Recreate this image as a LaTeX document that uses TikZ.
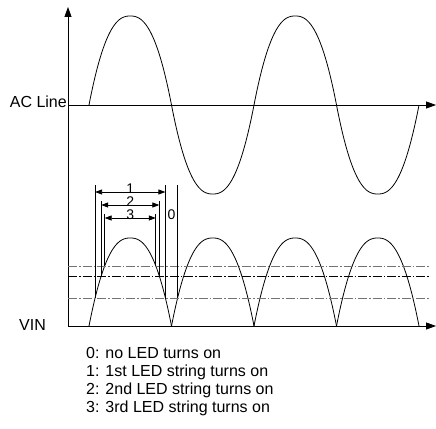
\documentclass[tikz,border=0pt]{standalone}
\usepackage{fontspec}
\setmainfont{Liberation Sans}
\usetikzlibrary{arrows.meta}
\tikzstyle{axisline}=[draw=black, line width=0.8pt, -{Triangle[length=10pt,width=7pt]}]
\tikzstyle{wave}=[draw=black, line width=0.8pt]
\tikzstyle{levelline}=[draw=black, line width=0.8pt, dash pattern=on 9pt off 2pt on 1.5pt off 2pt]
\tikzstyle{greylevel}=[levelline, draw=black!55]
\tikzstyle{markline}=[draw=black, line width=0.8pt]
\tikzstyle{dimarrow}=[draw=black, line width=0.8pt, {Triangle[length=7pt,width=5pt]}-{Triangle[length=7pt,width=5pt]}]
\tikzstyle{txt}=[font=\fontsize{16}{19}\selectfont, inner sep=0pt]
\tikzstyle{digit}=[font=\fontsize{14}{14}\selectfont, inner sep=0pt]

\begin{document}
\begin{tikzpicture}[x=1pt, y=-1pt]
\useasboundingbox (0,0) rectangle (436,428);
% axes
\coordinate (o) at (68,326);
\coordinate (top) at (68,7);
\coordinate (ac) at (68,105);
\coordinate (acend) at (436,105);
\coordinate (vinend) at (436,326);
\draw [style=axisline] (o) to (top);
\draw [style=axisline] (ac) to (acend);
\draw [style=axisline] (o) to (vinend);
\node [style=txt, anchor=base east] (acl) at (67,107) {AC Line};
\node [style=txt, anchor=base west] (vin) at (19,330) {VIN};
% AC line and rectified VIN
\foreach \k in {0,...,3} {
  \pgfmathsetmacro{\cx}{130.25+82.5*\k}
  \pgfmathsetmacro{\sg}{1-2*mod(\k,2)}
  \draw [style=wave] plot[domain=-1:1, samples=81, variable=\x]
    ({\cx+41.25*\x}, {105-\sg*89*(1-pow(abs(\x)+0.00001,2.4))});
  \draw [style=wave] plot[domain=-1:1, samples=81, variable=\x]
    ({\cx+41.25*\x}, {326-88*(1-pow(abs(\x)+0.00001,2.4))});
}
% threshold levels
\coordinate (v3a) at (68,266);  \coordinate (v3b) at (430,266);
\coordinate (v2a) at (68,276);  \coordinate (v2b) at (430,276);
\coordinate (v1a) at (68,298);  \coordinate (v1b) at (430,298);
\draw [style=greylevel] (v3a) to (v3b);
\draw [style=levelline] (v2a) to (v2b);
\draw [style=greylevel] (v1a) to (v1b);
% turn on / turn off marks
\coordinate (s1a) at (95.1,185);  \coordinate (s1b) at (95.1,298);
\coordinate (s2a) at (101.2,201); \coordinate (s2b) at (101.2,276);
\coordinate (s3a) at (104.7,214); \coordinate (s3b) at (104.7,266);
\coordinate (e3a) at (155.8,214); \coordinate (e3b) at (155.8,266);
\coordinate (e2a) at (159.3,201); \coordinate (e2b) at (159.3,276);
\coordinate (e1a) at (165.4,185); \coordinate (e1b) at (165.4,298);
\coordinate (z1a) at (177.6,185); \coordinate (z1b) at (177.6,298);
\draw [style=markline] (s1a) to (s1b);
\draw [style=markline] (s2a) to (s2b);
\draw [style=markline] (s3a) to (s3b);
\draw [style=markline] (e3a) to (e3b);
\draw [style=markline] (e2a) to (e2b);
\draw [style=markline] (e1a) to (e1b);
\draw [style=markline] (z1a) to (z1b);
\coordinate (d1) at (130.25,192);
\coordinate (d2) at (130.25,205);
\coordinate (d3) at (130.25,218);
\draw [style=dimarrow] (s1a |- d1) to (e1a |- d1);
\draw [style=dimarrow] (s2a |- d2) to (e2a |- d2);
\draw [style=dimarrow] (s3a |- d3) to (e3a |- d3);
\node [style=digit, anchor=base] (n1) at (130.25,193) {1};
\node [style=digit, anchor=base] (n2) at (130.25,206) {2};
\node [style=digit, anchor=base] (n3) at (130.25,219) {3};
\node [style=digit] (n0) at (171.5,215) {0};
% legend
\node [style=txt, anchor=base west] (t0) at (86,358) {0: no LED turns on};
\node [style=txt, anchor=base west] (t1) at (86,376) {1: 1st LED string turns on};
\node [style=txt, anchor=base west] (t2) at (86,394) {2: 2nd LED string turns on};
\node [style=txt, anchor=base west] (t3) at (86,412) {3: 3rd LED string turns on};
\end{tikzpicture}
\end{document}
